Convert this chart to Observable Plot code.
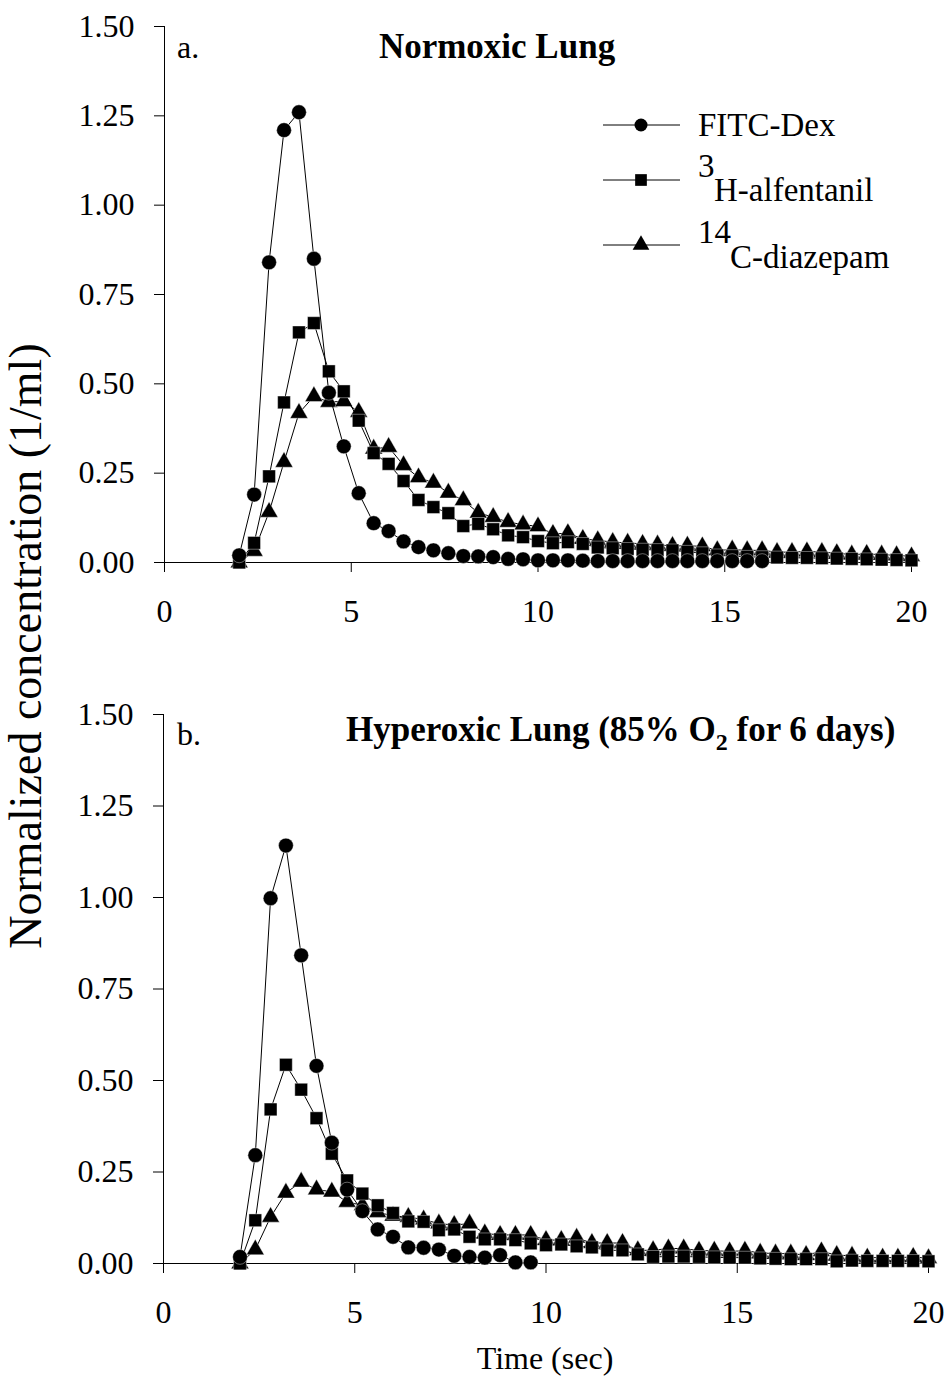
<!DOCTYPE html>
<html>
<head>
<meta charset="utf-8">
<script src="https://cdn.jsdelivr.net/npm/d3@7"></script>
<script src="https://cdn.jsdelivr.net/npm/@observablehq/plot@0.6"></script>
<style>
  html, body { margin: 0; padding: 0; background: #fff; }
  body { width: 950px; height: 1383px; position: relative; font-family: "Liberation Serif", "Times New Roman", serif; color: #000; }
  #top, #bottom { display: block; }
  #ylab { position: absolute; left: 0; top: 0; width: 80px; height: 1383px; overflow: visible; }
  #xlab { position: absolute; left: 545px; top: 1358px; transform: translate(-50%, -50%); font-size: 32px; white-space: nowrap; }
</style>
</head>
<body>
<div id="top"></div>
<div id="bottom"></div>
<svg id="ylab" width="80" height="1383"></svg>
<div id="xlab">Time (sec)</div>
<script>
// ---- data ----
const time = [2.0, 2.4, 2.8, 3.2, 3.6, 4.0, 4.4, 4.8, 5.2, 5.6, 6.0, 6.4, 6.8, 7.2, 7.6, 8.0, 8.4, 8.8, 9.2, 9.6,
  10.0, 10.4, 10.8, 11.2, 11.6, 12.0, 12.4, 12.8, 13.2, 13.6, 14.0, 14.4, 14.8, 15.2, 15.6, 16.0, 16.4, 16.8, 17.2, 17.6,
  18.0, 18.4, 18.8, 19.2, 19.6, 20.0];

const seriesNames = ["FITC-Dex", "3H-alfentanil", "14C-diazepam"];

// Panel a: Normoxic lung
const normFITC = [0.02, 0.19, 0.84, 1.21, 1.26, 0.85, 0.475, 0.325, 0.194, 0.11, 0.088, 0.059, 0.043, 0.034, 0.026, 0.018, 0.017, 0.015, 0.010, 0.009,
  0.006, 0.006, 0.006, 0.005, 0.004, 0.004, 0.004, 0.004, 0.004, 0.004, 0.004, 0.004, 0.004, 0.004, 0.004, 0.004];
const normAlf = [0.0, 0.055, 0.241, 0.448, 0.644, 0.670, 0.535, 0.479, 0.397, 0.306, 0.276, 0.228, 0.175, 0.155, 0.138, 0.102, 0.108, 0.093, 0.076, 0.071,
  0.060, 0.054, 0.057, 0.052, 0.042, 0.040, 0.038, 0.036, 0.035, 0.034, 0.030, 0.026, 0.020, 0.018, 0.016, 0.015, 0.014, 0.013, 0.013, 0.012,
  0.011, 0.010, 0.009, 0.008, 0.007, 0.006];
const normDiaz = [0.0, 0.032, 0.141, 0.281, 0.418, 0.465, 0.449, 0.451, 0.421, 0.318, 0.323, 0.272, 0.238, 0.223, 0.195, 0.174, 0.139, 0.127, 0.113, 0.106,
  0.101, 0.080, 0.082, 0.066, 0.062, 0.057, 0.055, 0.052, 0.050, 0.046, 0.047, 0.045, 0.034, 0.036, 0.034, 0.034, 0.029, 0.029, 0.031, 0.029,
  0.026, 0.022, 0.024, 0.022, 0.020, 0.017];

// Panel b: Hyperoxic lung
const hypFITC = [0.018, 0.296, 0.998, 1.142, 0.842, 0.540, 0.330, 0.202, 0.143, 0.093, 0.073, 0.044, 0.043, 0.038, 0.021, 0.018, 0.016, 0.023, 0.003, 0.003];
const hypAlf = [0.0, 0.118, 0.421, 0.543, 0.475, 0.397, 0.300, 0.227, 0.191, 0.159, 0.138, 0.115, 0.114, 0.091, 0.093, 0.073, 0.066, 0.066, 0.064, 0.055,
  0.050, 0.052, 0.047, 0.044, 0.036, 0.036, 0.025, 0.018, 0.019, 0.019, 0.018, 0.017, 0.016, 0.016, 0.014, 0.013, 0.012, 0.012, 0.012, 0.006,
  0.008, 0.007, 0.007, 0.007, 0.007, 0.006];
const hypDiaz = [0.0, 0.038, 0.127, 0.193, 0.223, 0.202, 0.196, 0.168, 0.159, 0.140, 0.130, 0.127, 0.120, 0.109, 0.105, 0.109, 0.082, 0.078, 0.078, 0.078,
  0.064, 0.064, 0.070, 0.056, 0.056, 0.056, 0.036, 0.036, 0.041, 0.041, 0.035, 0.035, 0.033, 0.035, 0.029, 0.027, 0.027, 0.023, 0.033, 0.023,
  0.021, 0.016, 0.016, 0.016, 0.018, 0.014];

const xTicks = [0, 5, 10, 15, 20];
const yTicks = [0, 0.25, 0.5, 0.75, 1.0, 1.25, 1.5];

// ---- helpers ----
const rows = vals => vals.map((v, i) => ({t: time[i], v}));
const FONT = "'Liberation Serif', 'Times New Roman', Times, serif";

function seriesMarks(fitc, alf, diaz) {
  const a = rows(fitc), b = rows(alf), c = rows(diaz);
  return [
    Plot.line(c, {x: "t", y: "v", stroke: "black", strokeWidth: 1}),
    Plot.dot(c, {x: "t", y: "v", symbol: "triangle", r: 6.6, fill: "black", stroke: "white", strokeWidth: 0.4}),
    Plot.line(b, {x: "t", y: "v", stroke: "black", strokeWidth: 1}),
    Plot.dot(b, {x: "t", y: "v", symbol: "square", r: 7.2, fill: "black", stroke: "white", strokeWidth: 0.4}),
    Plot.line(a, {x: "t", y: "v", stroke: "black", strokeWidth: 1}),
    Plot.dot(a, {x: "t", y: "v", symbol: "circle", r: 7.4, fill: "black", stroke: "white", strokeWidth: 0.4})
  ];
}

function panel(opts, fitc, alf, diaz) {
  return Plot.plot({
    width: 950,
    height: opts.height,
    marginTop: opts.mt,
    marginBottom: opts.mb,
    marginLeft: opts.ml,
    marginRight: opts.mr,
    style: {fontFamily: FONT, fontSize: "32px", color: "black", background: "white", overflow: "visible"},
    x: {domain: [0, 20], ticks: xTicks, tickSize: 10, tickPadding: 27, tickFormat: d => String(d), line: true, label: null},
    y: {domain: [0, 1.5], ticks: yTicks, tickSize: 10, tickPadding: 20, tickFormat: d3.format(".2f"), line: true, label: null},
    marks: seriesMarks(fitc, alf, diaz)
  });
}

// ---- top panel ----
const topSvg = panel({height: 620, mt: 26, mb: 58, ml: 164, mr: 39}, normFITC, normAlf, normDiaz);
document.getElementById("top").appendChild(topSvg);

// ---- bottom panel ----
const botSvg = panel({height: 763, mt: 94, mb: 120, ml: 163, mr: 22}, hypFITC, hypAlf, hypDiaz);
document.getElementById("bottom").appendChild(botSvg);

// ---- annotations ----
const ts = d3.select(topSvg);
ts.append("text").attr("x", 177).attr("y", 58).attr("font-size", 32).attr("text-anchor", "start").attr("font-family", FONT).text("a.");
ts.append("text").attr("x", 497).attr("y", 58).attr("font-size", 35).attr("font-weight", "bold")
  .attr("text-anchor", "middle").attr("font-family", FONT).text("Normoxic Lung");

const bs = d3.select(botSvg);
bs.append("text").attr("x", 177).attr("y", 125).attr("font-size", 32).attr("text-anchor", "start").attr("font-family", FONT).text("b.");
const ht = bs.append("text").attr("x", 346).attr("y", 121).attr("font-size", 35).attr("font-weight", "bold")
  .attr("text-anchor", "start").attr("font-family", FONT);
ht.append("tspan").text("Hyperoxic Lung (85% O");
ht.append("tspan").attr("font-size", 24).attr("dy", 9).text("2");
ht.append("tspan").attr("dy", -9).text(" for 6 days)");

// ---- legend (top panel) ----
const leg = ts.append("g").attr("font-family", FONT).attr("font-size", 33).attr("text-anchor", "start");
const legRows = [
  {y: 125, sym: d3.symbolCircle, r: 6.5},
  {y: 180, sym: d3.symbolSquare, r: 6.6},
  {y: 245, sym: d3.symbolTriangle, r: 6.2}
];
legRows.forEach(d => {
  leg.append("line").attr("x1", 603).attr("x2", 680).attr("y1", d.y).attr("y2", d.y).attr("stroke", "black").attr("stroke-width", 1);
  leg.append("path").attr("transform", `translate(641,${d.y})`).attr("d", d3.symbol(d.sym, Math.PI * d.r * d.r)()).attr("fill", "black");
});
leg.append("text").attr("x", 698).attr("y", 136).text(seriesNames[0]);
leg.append("text").attr("x", 698).attr("y", 177).text("3");
leg.append("text").attr("x", 714).attr("y", 201).text(seriesNames[1].slice(1));
leg.append("text").attr("x", 698).attr("y", 243).text("14");
leg.append("text").attr("x", 730).attr("y", 268).text(seriesNames[2].slice(2));

// ---- shared y-axis label ----
d3.select("#ylab").append("text")
  .attr("transform", "translate(41,646) rotate(-90)")
  .attr("text-anchor", "middle")
  .attr("font-family", FONT)
  .attr("font-size", 46)
  .text("Normalized concentration (1/ml)");
</script>
</body>
</html>
